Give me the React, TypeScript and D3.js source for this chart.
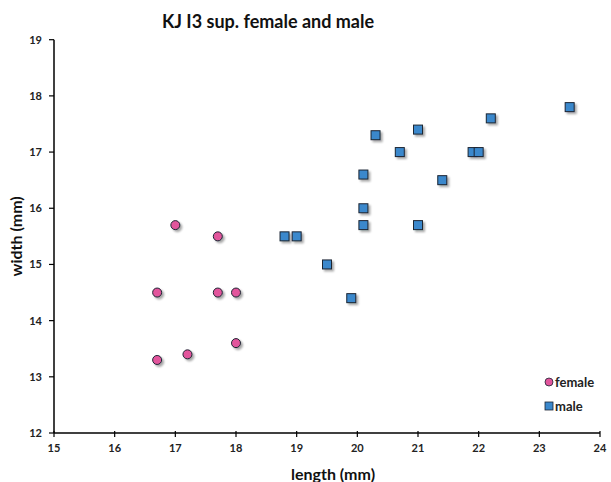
import React from "react";
import * as d3 from "d3";

const femaleLength = [16.7, 17.0, 17.7, 17.7, 18.0, 18.0, 16.7, 17.2];
const femaleWidth = [14.5, 15.7, 15.5, 14.5, 14.5, 13.6, 13.3, 13.4];
const maleLength = [23.5, 22.2, 21.0, 20.3, 20.7, 21.9, 22.0, 20.1, 21.4, 20.1, 20.1, 21.0, 18.8, 19.0, 19.5, 19.9];
const maleWidth = [17.8, 17.6, 17.4, 17.3, 17.0, 17.0, 17.0, 16.6, 16.5, 16.0, 15.7, 15.7, 15.5, 15.5, 15.0, 14.4];
const xTicks = [15, 16, 17, 18, 19, 20, 21, 22, 23, 24];
const yTicks = [12, 13, 14, 15, 16, 17, 18, 19];

const W = 611;
const H = 482;
const FONT = "Lato, 'Open Sans', sans-serif";

export default function App() {
  const x = d3.scaleLinear().domain([15, 24]).range([54, 600]);
  const y = d3.scaleLinear().domain([12, 19]).range([433, 39.7]);
  const female = femaleLength.map((l, i) => ({ l, w: femaleWidth[i] }));
  const male = maleLength.map((l, i) => ({ l, w: maleWidth[i] }));
  const pink = "#e2559c";
  const blue = "#3a88cc";
  const stroke = "#1c2533";
  return (
    <svg
      width={W}
      height={H}
      style={{ position: "absolute", left: 0, top: 0, background: "#fff" }}
      fontFamily={FONT}
    >
      <defs>
        <filter id="sh" x="-50%" y="-50%" width="200%" height="200%">
          <feGaussianBlur in="SourceAlpha" stdDeviation="1.2" />
          <feOffset dx="1.5" dy="1.5" result="b" />
          <feComponentTransfer>
            <feFuncA type="linear" slope="0.35" />
          </feComponentTransfer>
          <feMerge>
            <feMergeNode />
            <feMergeNode in="SourceGraphic" />
          </feMerge>
        </filter>
      </defs>
      <rect x={0} y={0} width={W} height={H} fill="#fff" />
      <text x={268} y={28} textAnchor="middle" fontSize={18} fontWeight="bold" fill="#111">
        KJ I3 sup. female and male
      </text>
      {/* axes */}
      <line x1={x(15)} x2={x(24)} y1={y(12)} y2={y(12)} stroke="#000" strokeWidth={1.5} />
      <line x1={x(15)} x2={x(15)} y1={y(12)} y2={y(19)} stroke="#000" strokeWidth={1.5} />
      {xTicks.map((t) => (
        <g key={"x" + t}>
          <line x1={x(t)} x2={x(t)} y1={y(12) - 2} y2={y(12) + 4} stroke="#000" strokeWidth={1.2} />
          <text x={x(t)} y={y(12) + 19} textAnchor="middle" fontSize={11} fontWeight="bold" fill="#222">
            {t}
          </text>
        </g>
      ))}
      {yTicks.map((t) => (
        <g key={"y" + t}>
          <line x1={x(15) - 5} x2={x(15)} y1={y(t)} y2={y(t)} stroke="#000" strokeWidth={1.2} />
          <text x={x(15) - 12} y={y(t) + 4} textAnchor="end" fontSize={11} fontWeight="bold" fill="#222">
            {t}
          </text>
        </g>
      ))}
      <text x={333} y={480} textAnchor="middle" fontSize={16} fontWeight="bold" fill="#111">
        length (mm)
      </text>
      <text
        transform={`translate(22, ${(y(12) + y(19)) / 2}) rotate(-90)`}
        textAnchor="middle"
        fontSize={16}
        fontWeight="bold"
        fill="#111"
      >
        width (mm)
      </text>
      {/* points */}
      <g filter="url(#sh)">
        {female.map((d, i) => (
          <circle key={"f" + i} cx={x(d.l)} cy={y(d.w)} r={4.5} fill={pink} stroke={stroke} strokeWidth={1} />
        ))}
        {male.map((d, i) => (
          <rect
            key={"m" + i}
            x={x(d.l) - 4.5}
            y={y(d.w) - 4.5}
            width={9}
            height={9}
            fill={blue}
            stroke={stroke}
            strokeWidth={1}
          />
        ))}
      </g>
      {/* legend */}
      <g>
        <circle cx={549} cy={382} r={4} fill={pink} stroke={stroke} strokeWidth={0.8} />
        <text x={555} y={387} fontSize={13} fontWeight="bold" fill="#222">
          female
        </text>
        <rect x={545} y={402} width={8} height={8} fill={blue} stroke={stroke} strokeWidth={0.8} />
        <text x={555} y={411} fontSize={13} fontWeight="bold" fill="#222">
          male
        </text>
      </g>
    </svg>
  );
}
